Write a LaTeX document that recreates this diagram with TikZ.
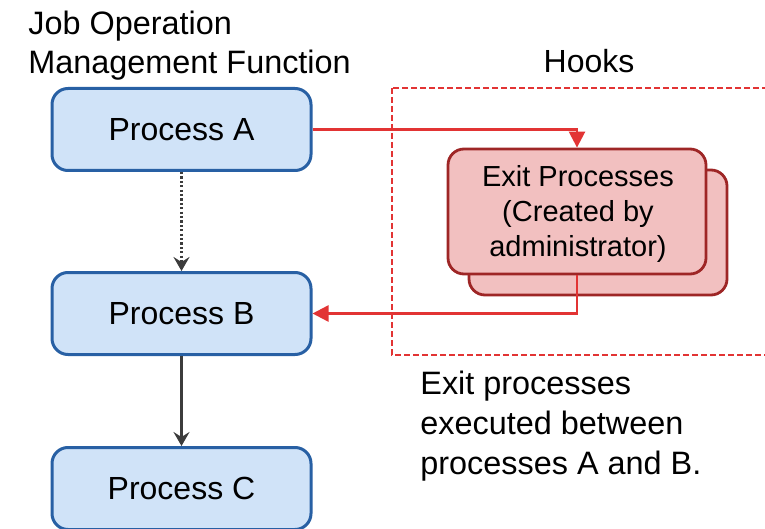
\documentclass[tikz,border=0pt]{standalone}
\usepackage{fontspec}
\setmainfont{Liberation Sans}
\usetikzlibrary{arrows.meta}
\definecolor{procfill}{RGB}{208,227,248}
\definecolor{procline}{RGB}{40,96,164}
\definecolor{hookred}{RGB}{226,52,52}
\definecolor{exitfill}{RGB}{242,192,192}
\definecolor{exitline}{RGB}{158,38,38}
\definecolor{flowgray}{RGB}{60,60,60}
\tikzset{
  procbox/.style={draw=procline, fill=procfill, line width=1.5pt, rounded corners=8pt,
    minimum width=129.5pt, minimum height=41pt, inner sep=0pt,
    font=\fontsize{16}{18}\selectfont},
  exitbox/.style={draw=exitline, fill=exitfill, line width=1.4pt, rounded corners=8pt,
    minimum width=129pt, minimum height=62.5pt, inner sep=0pt},
  exittext/.style={inner sep=0pt, align=center, font=\fontsize{14.5}{17.4}\selectfont},
  label/.style={anchor=base west, inner sep=0pt, font=\fontsize{16.2}{18}\selectfont},
  hookline/.style={draw=hookred, line width=1.25pt},
  flowline/.style={draw=flowgray, line width=1.4pt},
  dotline/.style={draw=flowgray, line width=1.6pt, dash pattern=on 1.1pt off 1.1pt},
  tip/.style={-{Stealth[length=7pt,width=8pt,inset=2.5pt]}},
  redtip/.style={-{Stealth[length=8pt,width=8pt,inset=0pt]}}
}
\begin{document}
\begin{tikzpicture}[x=0.5pt, y=-0.5pt]
  \useasboundingbox (0,0) rectangle (765,529);
  \clip (0,0) rectangle (765,529);

  % heading of the left column
  \node[label] (t1) at (28,35) {Job Operation};
  \node[label] (t2) at (28,74) {Management Function};

  % hooks area
  \draw[draw=hookred, line width=1pt, dash pattern=on 3pt off 1.5pt] (392,88) rectangle (790,355);
  \node[anchor=base, inner sep=0pt, font=\fontsize{16}{18}\selectfont] (hooks) at (589,73) {Hooks};

  % job processes
  \node[procbox] (A) at (181.5,129.5) {Process A};
  \node[procbox] (B) at (181.5,313.5) {Process B};
  \node[procbox] (C) at (181.5,488.5) {Process C};

  % exit processes (stacked)
  \node[exitbox] (exitback) at (598,232.5) {};
  \node[exitbox] (exit) at (577,211.5) {};
  \node[exittext] (exitlabel) at (578,214) {Exit Processes\\(Created by\\administrator)};

  % flow between processes
  \draw[dotline, tip] (A.south) -- (B.north);
  \draw[flowline, tip] (B.south) -- (C.north);

  % calls into and out of the hook
  \draw[hookline, redtip] (A.east) -| (exit.north);
  \draw[hookline, redtip] (exit.south) |- (B.east);

  % note
  \node[label] (n1) at (420,394) {Exit processes};
  \node[label] (n2) at (420,434) {executed between};
  \node[label] (n3) at (420,474) {processes A and B.};
\end{tikzpicture}
\end{document}
